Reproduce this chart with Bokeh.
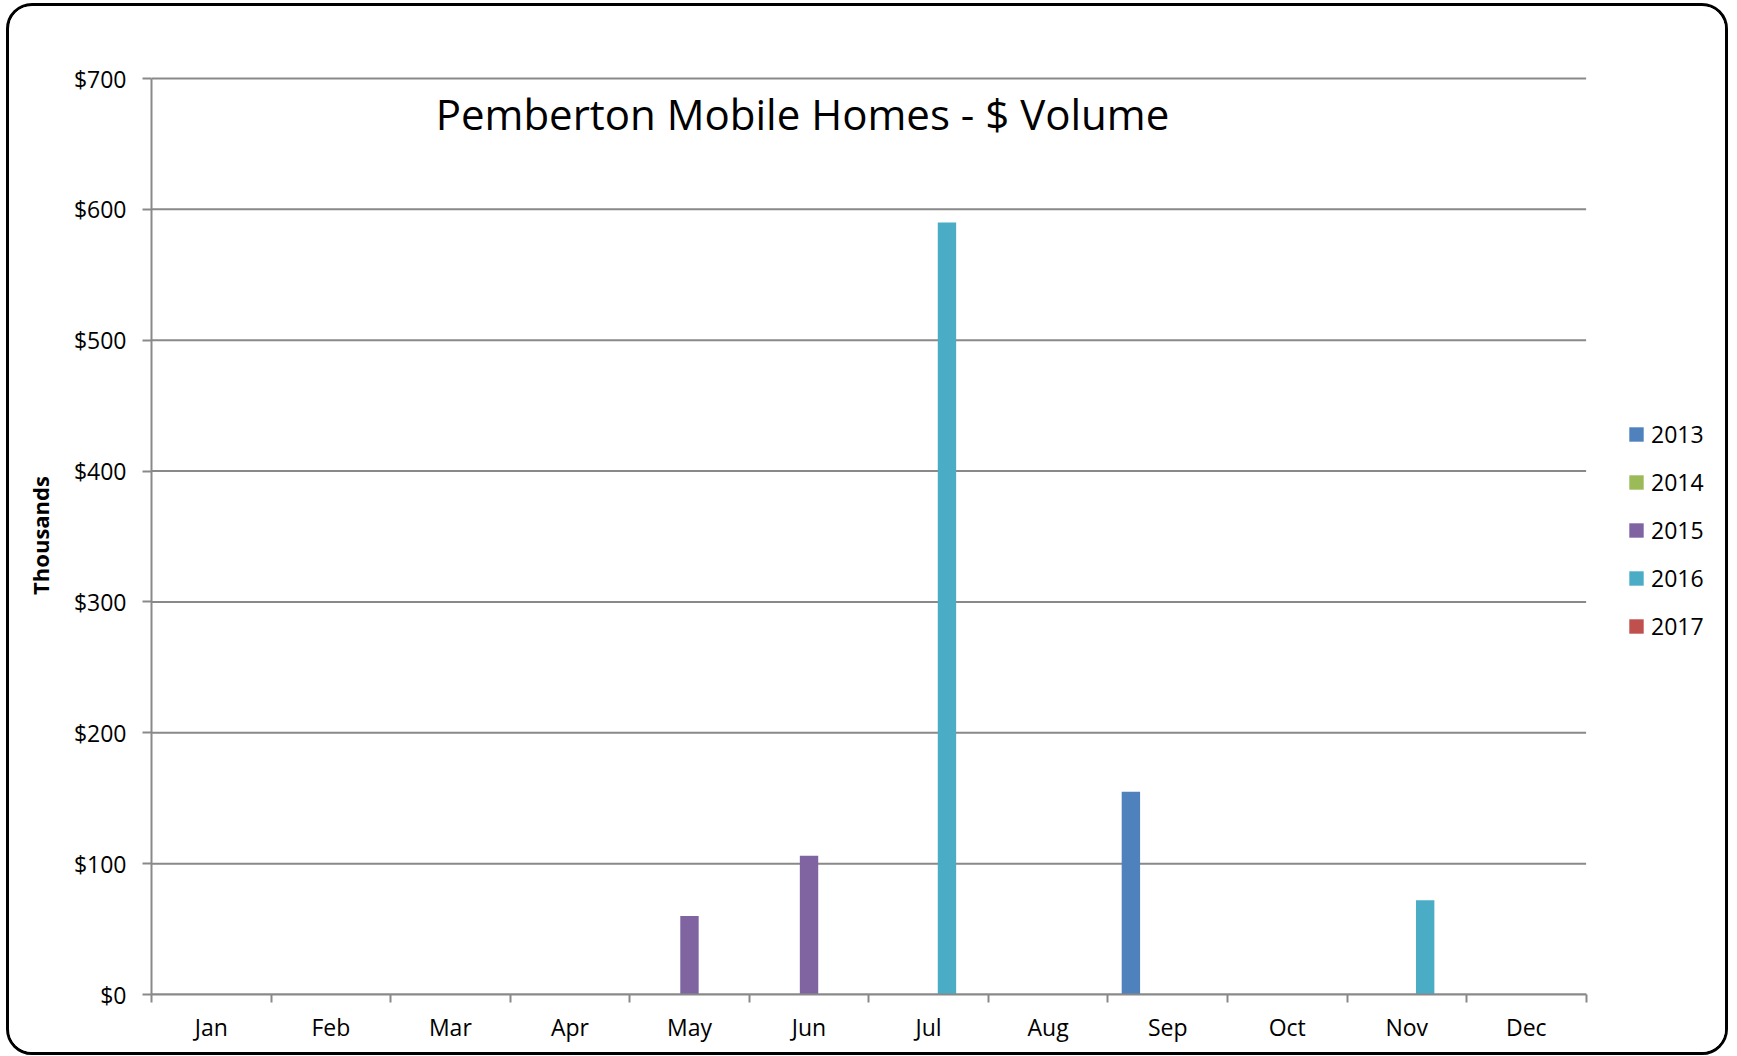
from bokeh.plotting import figure
from bokeh.models import (ColumnDataSource, FixedTicker, NumeralTickFormatter, Range1d, Label,
                          Legend, LegendItem)
from bokeh.transform import dodge
from bokeh.embed import file_html
from bokeh.resources import INLINE

months = ["Jan", "Feb", "Mar", "Apr", "May", "Jun", "Jul", "Aug", "Sep", "Oct", "Nov", "Dec"]
years = ["2013", "2014", "2015", "2016", "2017"]
v2013 = [0, 0, 0, 0, 0, 0, 0, 0, 155, 0, 0, 0]
v2014 = [0, 0, 0, 0, 0, 0, 0, 0, 0, 0, 0, 0]
v2015 = [0, 0, 0, 0, 60, 106, 0, 0, 0, 0, 0, 0]
v2016 = [0, 0, 0, 0, 0, 0, 590, 0, 0, 0, 72, 0]
v2017 = [0, 0, 0, 0, 0, 0, 0, 0, 0, 0, 0, 0]
colors = ["#4F81BD", "#9BBB59", "#8064A2", "#4BACC6", "#C0504D"]
y_ticks = [0, 100, 200, 300, 400, 500, 600, 700]
title_text = "Pemberton Mobile Homes - $ Volume"

FONT = "Open Sans"
GRID = "#898989"

# layout (pixels)
W, H = 1722, 1052
MB_LEFT, MB_TOP, MB_BOTTOM = 142, 70, 64
AXIS_PX = 1434.6           # pixel length of the 12-month axis
FRAME_W = W - MB_LEFT      # frame extends to the right edge (legend lives there)
Y_PX = 916.0               # pixel length of the 0..700 axis
n = len(months)
x_end = n * FRAME_W / AXIS_PX
y_end = y_ticks[-1] + 2 * y_ticks[-1] / Y_PX

mid = [i + 0.5 for i in range(n)]
src = ColumnDataSource(dict(mid=mid, **{y: v for y, v in zip(years, [v2013, v2014, v2015, v2016, v2017])}))

p = figure(width=W, height=H, output_backend="svg", toolbar_location=None,
           x_range=Range1d(0, x_end), y_range=Range1d(0, y_end),
           min_border_left=MB_LEFT, min_border_top=MB_TOP, min_border_right=0,
           min_border_bottom=MB_BOTTOM)
p.outline_line_color = None
p.background_fill_color = "white"
p.border_fill_color = "white"

# horizontal gridlines spanning only the month axis
p.segment(x0=[0] * len(y_ticks), x1=[n] * len(y_ticks), y0=y_ticks, y1=y_ticks,
          line_color=GRID, line_width=2)

bw = 1 / 6.5
items = []
for k, (yr, c) in enumerate(zip(years, colors)):
    r = p.vbar(x=dodge("mid", (k - 2) * bw, range=p.x_range), top=yr, width=bw, source=src,
               fill_color=c, line_color=None)
    items.append(LegendItem(label=yr, renderers=[r]))

# x axis: labels at centers, boundary ticks as minor ticks
xa = p.xaxis[0]
xa.bounds = (0, n)
xa.ticker = FixedTicker(ticks=mid, minor_ticks=list(range(n + 1)))
xa.major_label_overrides = {m: lab for m, lab in zip(mid, months)}
xa.major_tick_line_color = None
xa.major_tick_in = 0
xa.major_tick_out = 0
xa.minor_tick_line_color = GRID
xa.minor_tick_line_width = 2
xa.minor_tick_in = 0
xa.minor_tick_out = 8
xa.axis_line_color = GRID
xa.axis_line_width = 2
xa.major_label_text_font = FONT
xa.major_label_text_font_size = "23px"
xa.major_label_text_color = "black"
xa.major_label_standoff = 8

ya = p.yaxis[0]
ya.bounds = (0, y_ticks[-1])
ya.ticker = FixedTicker(ticks=y_ticks)
ya.formatter = NumeralTickFormatter(format="$0")
ya.major_tick_line_color = GRID
ya.major_tick_line_width = 2
ya.major_tick_in = 0
ya.major_tick_out = 9
ya.minor_tick_line_color = None
ya.axis_line_color = GRID
ya.axis_line_width = 2
ya.major_label_text_font = FONT
ya.major_label_text_font_size = "23px"
ya.major_label_text_color = "black"
ya.major_label_standoff = 16
ya.axis_label = "Thousands"
ya.axis_label_text_font = FONT
ya.axis_label_text_font_size = "22px"
ya.axis_label_text_font_style = "bold"
ya.axis_label_text_color = "black"
ya.axis_label_standoff = 16

p.grid.visible = False

title = Label(x=651, y=881, x_units="screen", y_units="screen", text=title_text,
              text_font=FONT, text_font_size="42px", text_align="center",
              text_baseline="alphabetic", text_color="black")
p.add_layout(title)

lg = Legend(items=items, location=(1476, 352), orientation="vertical")
lg.border_line_color = None
lg.background_fill_alpha = 0
lg.padding = 0
lg.margin = 0
lg.spacing = 16
lg.glyph_width = 18
lg.glyph_height = 18
lg.label_height = 32
lg.label_standoff = 6
lg.label_text_font = FONT
lg.label_text_font_size = "23px"
lg.label_text_color = "black"
lg.label_text_baseline = "middle"
p.add_layout(lg, "center")

p.styles = {"border": "3px solid black", "border-radius": "26px", "box-sizing": "border-box",
            "overflow": "hidden", "margin-left": "6px", "margin-top": "3px"}

open("out.html", "w").write(file_html(p, INLINE))
